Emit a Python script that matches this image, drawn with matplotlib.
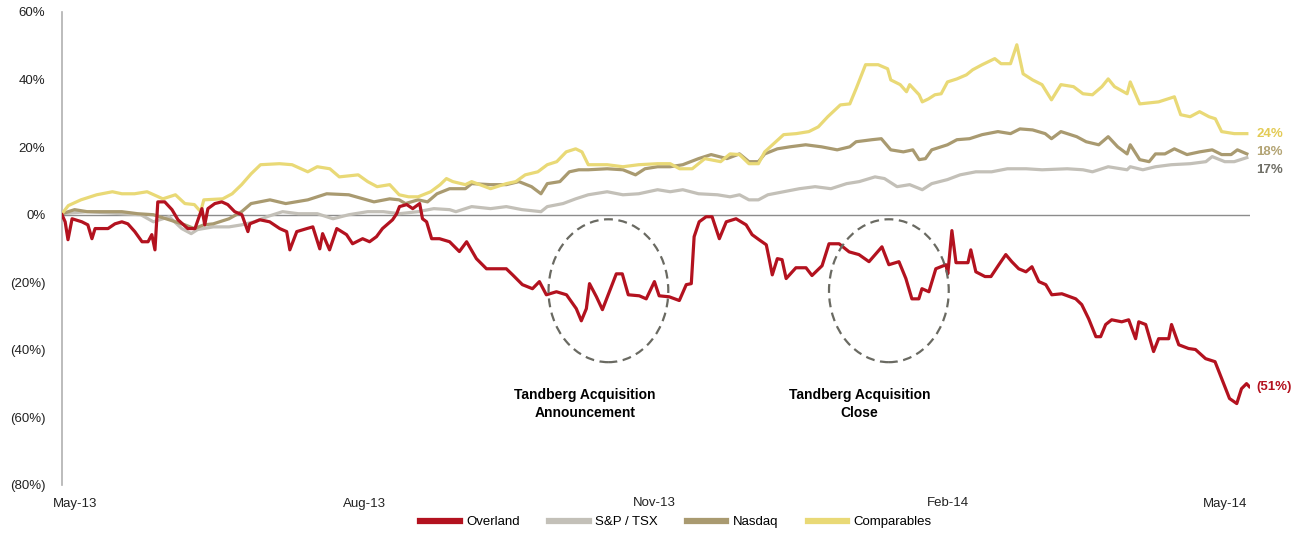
import matplotlib
matplotlib.use("Agg")
import matplotlib.pyplot as plt
from matplotlib.patches import Ellipse

plt.rcParams['font.family'] = ['Liberation Sans', 'DejaVu Sans']

# days since 27-Apr-2013, % change
overland_day = [0, 1.0, 1.9, 3.2, 6.3, 8.2, 9.5, 10.5, 14.6, 16.8, 19.0, 20.9, 23.1, 25.4, 27.3, 28.5,
                29.5, 30.4, 32.6, 34.9, 36.8, 39.9, 42.2, 44.4, 45.3, 46.3, 48.5, 50.7, 52.6, 54.8,
                57.1, 59.0, 59.6, 62.8, 65.9, 69.1, 71.3, 72.3, 74.5, 77.7, 79.6, 80.8, 81.8, 82.7,
                84.9, 87.2, 90.3, 92.2, 95.4, 97.6, 99.8, 101.7, 104.9, 106.2, 107.1, 109.4, 111.3,
                113.5, 114.4, 115.7, 117.3, 119.8, 123.0, 126.1, 128.4, 131.5, 134.7, 137.9, 141.0,
                143.0, 146.1, 149.3, 151.5, 153.7, 156.9, 160.1, 163.2, 164.8, 166.4, 167.4, 169.6,
                171.5, 173.7, 175.9, 177.8, 179.7, 183.2, 185.4, 188.0, 189.5, 192.7, 195.9, 198.1,
                199.7, 200.6, 202.2, 204.4, 206.3, 208.6, 210.8, 213.9, 217.1, 219.0, 221.2, 223.5,
                224.4, 225.4, 227.0, 228.5, 229.8, 232.9, 236.1, 238.0, 241.2, 243.4, 246.6, 249.8,
                252.9, 256.1, 260.2, 262.4, 265.6, 267.8, 269.7, 271.9, 272.9, 275.1, 277.3, 280.5,
                281.1, 282.4, 283.7, 287.5, 288.4, 290.0, 292.9, 294.8, 297.3, 299.5, 301.4, 303.6,
                305.9, 307.8, 310.0, 312.2, 314.1, 317.3, 321.7, 323.6, 325.8, 328.1, 329.6, 331.2,
                333.1, 336.3, 338.5, 340.7, 341.7, 343.9, 346.4, 348.0, 351.2, 352.1, 354.4, 357.5,
                359.7, 362.9, 365.9, 368.4, 370.5, 372.8, 374.3, 375.9, 376.8]
overland = [0.0, -2.1, -7.4, -1.2, -2.1, -3.0, -7.1, -4.1, -4.1, -2.7, -2.1, -2.7, -5.0, -8.0, -8.0, -5.9,
            -10.4, 3.8, 3.8, 1.5, -1.5, -4.1, -4.1, 1.8, -3.0, 1.8, 3.3, 3.8, 3.0, 0.9,
            0.0, -5.0, -2.7, -1.5, -2.1, -4.1, -5.0, -10.4, -5.0, -4.1, -3.6, -7.1, -10.1, -5.6,
            -10.4, -4.1, -5.9, -8.6, -7.1, -8.0, -6.5, -4.1, -1.5, 0.3, 2.4, 3.0, 1.8,
            3.3, -1.2, -2.1, -7.1, -7.1, -8.0, -10.9, -8.0, -13.0, -16.0, -16.0, -16.0,
            -17.8, -20.7, -21.9, -19.8, -23.7, -22.8, -23.7, -27.8, -31.4, -27.8, -20.4, -24.3,
            -28.1, -22.8, -17.5, -17.5, -23.7, -24.0, -24.9, -19.8, -24.0, -24.3, -25.4, -20.7,
            -20.4, -6.5, -2.1, -0.6, -0.6, -7.1, -2.1, -1.2, -3.0, -5.9, -7.4, -8.9,
            -13.0, -17.8, -13.0, -13.3, -18.9, -15.7, -15.7, -18.0, -15.1, -8.6, -8.6, -11.0,
            -11.8, -13.9, -9.5, -14.8, -13.9, -18.9, -24.9, -24.9, -21.9, -22.8, -16.0, -14.8,
            -17.5, -4.7, -14.2, -14.2, -10.4, -16.9, -18.3, -18.3, -14.8, -11.8, -13.9, -16.0,
            -16.9, -15.4, -19.8, -20.7, -23.7, -23.4, -24.9, -26.6, -30.8, -36.1, -36.1, -32.5,
            -31.1, -31.7, -31.1, -36.7, -31.7, -32.5, -40.5, -36.7, -36.7, -32.5, -38.5, -39.6,
            -39.9, -42.6, -43.5, -49.4, -54.4, -55.9, -51.5, -50.0, -50.9]

tsx_day = [0, 8, 19, 25, 29, 34, 38, 41, 43, 48, 53, 57, 61, 65, 70, 75, 81, 86, 91, 97, 102, 107, 113,
           118, 123, 125, 130, 136, 141, 146, 152, 154, 159, 163, 167, 173, 178, 183, 189, 193, 197,
           202, 208, 212, 215, 218, 221, 224, 229, 234, 239, 244, 249, 253, 258, 261, 265, 269, 273,
           276, 281, 285, 290, 295, 300, 306, 311, 319, 324, 327, 332, 338, 339, 343, 347, 352, 358,
           363, 365, 369, 372, 376]
tsx = [0.3, 0.9, 0.3, 0.0, -2.1, -0.6, -4.1, -5.6, -4.4, -3.6, -3.6, -3.0, -2.1, -0.6, 0.9, 0.3, 0.3,
       -1.2, 0.0, 0.9, 0.9, 0.3, 0.9, 1.8, 1.5, 0.9, 2.4, 1.8, 2.4, 1.5, 0.9, 2.4, 3.3, 4.7, 5.9, 6.8,
       5.9, 6.2, 7.4, 6.8, 7.4, 6.2, 5.9, 5.3, 5.9, 4.4, 4.4, 5.9, 6.8, 7.7, 8.3, 7.7, 9.2, 9.8, 11.2,
       10.7, 8.3, 8.9, 7.4, 9.2, 10.4, 11.8, 12.7, 12.7, 13.6, 13.6, 13.3, 13.6, 13.3, 12.7, 14.2,
       13.3, 14.2, 13.3, 14.2, 14.8, 15.1, 15.7, 17.2, 15.7, 15.7, 16.9]

nasdaq_day = [0, 4, 8, 14, 19, 24, 29, 33, 36, 39, 42, 45, 48, 53, 57, 60, 66, 71, 78, 84, 91, 99, 104,
              107, 109, 113, 116, 119, 123, 128, 130, 136, 141, 145, 149, 152, 154, 158, 161, 164, 167,
              173, 178, 182, 185, 189, 193, 197, 202, 206, 211, 215, 218, 221, 223, 227, 231, 236, 241,
              246, 250, 252, 257, 260, 263, 267, 270, 272, 274, 276, 281, 284, 288, 292, 297, 301, 304,
              308, 312, 314, 317, 322, 325, 329, 332, 335, 338, 339, 342, 345, 347, 350, 353, 357, 361,
              365, 368, 371, 373, 376]
nasdaq = [0.3, 1.5, 0.9, 0.9, 0.9, 0.3, 0.0, -1.2, -2.1, -3.0, -4.1, -3.0, -2.7, -1.2, 0.9, 3.3, 4.4,
          3.3, 4.4, 6.2, 5.9, 3.8, 4.7, 4.4, 3.3, 4.4, 3.8, 6.2, 7.7, 7.7, 9.2, 8.9, 8.9, 9.8, 8.3, 6.2,
          9.2, 9.8, 12.7, 13.3, 13.3, 13.6, 13.3, 11.8, 13.6, 14.2, 14.2, 14.8, 16.6, 17.8, 16.6, 18.0,
          15.7, 15.7, 18.0, 19.5, 20.1, 20.7, 20.1, 19.2, 20.1, 21.6, 22.2, 22.5, 19.2, 18.6, 19.2, 16.3,
          16.6, 19.2, 20.7, 22.2, 22.5, 23.7, 24.6, 24.0, 25.4, 25.1, 24.0, 22.5, 24.6, 23.1, 21.6, 20.7,
          23.1, 20.1, 18.0, 20.7, 16.3, 15.7, 18.0, 18.0, 19.5, 17.8, 18.6, 19.2, 17.8, 17.8, 19.2, 18.0]

comps_day = [0, 2, 6, 11, 16, 19, 23, 27, 32, 36, 39, 42, 44, 45, 51, 54, 57, 60, 63, 69, 73, 78, 81, 85,
             88, 94, 97, 100, 104, 107, 110, 113, 117, 120, 122, 124, 128, 130, 136, 141, 144, 147, 151,
             154, 157, 160, 163, 165, 167, 173, 178, 183, 189, 193, 196, 200, 204, 209, 212, 215, 218,
             221, 223, 229, 233, 237, 240, 243, 247, 250, 252, 255, 259, 262, 263, 266, 268, 269, 272,
             273, 275, 277, 279, 281, 284, 287, 289, 292, 296, 298, 301, 303, 305, 308, 311, 314, 317,
             321, 324, 327, 330, 332, 334, 338, 339, 342, 348, 353, 355, 358, 361, 364, 366, 368, 372, 376]
comps = [0.3, 2.7, 4.4, 5.9, 6.8, 6.2, 6.2, 6.8, 4.7, 5.9, 3.3, 3.0, 0.9, 4.4, 4.7, 6.2, 8.9, 12.1, 14.8,
         15.1, 14.8, 12.7, 14.2, 13.6, 11.2, 11.8, 9.8, 8.3, 8.9, 5.9, 5.3, 5.3, 6.8, 8.9, 10.7, 9.8, 8.9,
         9.8, 7.7, 9.2, 9.8, 11.8, 12.7, 14.8, 15.7, 18.6, 19.5, 18.6, 14.8, 14.8, 14.2, 14.8, 15.1, 15.1,
         13.6, 13.6, 16.6, 15.7, 18.0, 17.8, 15.1, 15.1, 18.6, 23.7, 24.0, 24.6, 26.0, 29.0, 32.5, 32.8,
         37.3, 44.4, 44.4, 43.2, 39.9, 38.5, 36.4, 38.5, 35.5, 33.4, 34.3, 35.5, 35.8, 39.3, 40.2, 41.4,
         42.9, 44.4, 46.2, 44.7, 44.7, 50.3, 41.7, 39.9, 38.5, 34.0, 38.5, 37.9, 35.8, 35.5, 37.9, 40.2,
         37.9, 35.8, 39.3, 32.8, 33.4, 34.9, 29.6, 29.0, 30.5, 29.0, 28.4, 24.6, 24.0, 24.0]

tick_days = [4, 96, 188, 281, 369]
tick_labels = ["May-13", "Aug-13", "Nov-13", "Feb-14", "May-14"]
yticks = [60, 40, 20, 0, -20, -40, -60, -80]
ylabels = ["60%", "40%", "20%", "0%", "(20%)", "(40%)", "(60%)", "(80%)"]

RED = "#b3121f"
GRAY = "#c3c0b8"
TAN = "#a99a70"
YELLOW = "#e9d976"

fig = plt.figure(figsize=(12.95, 5.33), dpi=100)
ax = fig.add_axes([62 / 1295, 48 / 533, (1250 - 62) / 1295, (485 - 12) / 533])

ax.axhline(0, color="#8c8c8c", lw=1.0, zorder=1)
ax.plot(tsx_day, tsx, color=GRAY, lw=2.3, label="S&P / TSX", zorder=2)
ax.plot(nasdaq_day, nasdaq, color=TAN, lw=2.3, label="Nasdaq", zorder=3)
ax.plot(comps_day, comps, color=YELLOW, lw=2.3, label="Comparables", zorder=4)
ax.plot(overland_day, overland, color=RED, lw=2.3, label="Overland", zorder=5)

# dashed circles round the two events
for cx in [173.4, 262.4]:
    ax.add_patch(Ellipse((cx, -22.5), 38, 42.3, fill=False, ec="#6a6a62", lw=1.6,
                         ls=(0, (4, 2.5)), zorder=6))
ax.text(166, -56, "Tandberg Acquisition\nAnnouncement", ha="center", va="center",
        fontsize=10, fontweight="bold", linespacing=1.3)
ax.text(253, -56, "Tandberg Acquisition\nClose", ha="center", va="center",
        fontsize=10, fontweight="bold", linespacing=1.3)

# end labels (spread so they don't collide)
end_lbl = [(comps[-1], "24%", "#e3cb55"), (nasdaq[-1] + 0.6, "18%", "#b3a474"),
           (tsx[-1] - 3.6, "17%", "#6f6e66"), (overland[-1], "(51%)", RED)]
for v, s, c in end_lbl:
    ax.text(379, v, s, color=c, fontsize=9.5, fontweight="bold", va="center")

ax.set_xlim(0, 377)
ax.set_ylim(-80, 60)
ax.set_yticks(yticks)
ax.set_yticklabels(ylabels)
ax.set_xticks(tick_days)
ax.set_xticklabels(tick_labels)
ax.tick_params(axis="both", length=0, labelsize=9.5, colors="#222222")
ax.tick_params(axis="y", pad=12)
ax.tick_params(axis="x", pad=9)
for s in ["top", "right", "bottom"]:
    ax.spines[s].set_visible(False)
ax.spines["left"].set_color("#b0b0b0")
ax.spines["left"].set_linewidth(1.2)

h, l = ax.get_legend_handles_labels()
order = [3, 0, 1, 2]
leg = fig.legend([h[i] for i in order], [l[i] for i in order], loc="center",
                 bbox_to_anchor=(0.522, 0.02), ncol=4, frameon=False, fontsize=9.5,
                 handlelength=3.0, handletextpad=0.5, columnspacing=2.2)
for line in leg.get_lines():
    line.set_linewidth(4.5)

fig.savefig("out.png", dpi=100)
